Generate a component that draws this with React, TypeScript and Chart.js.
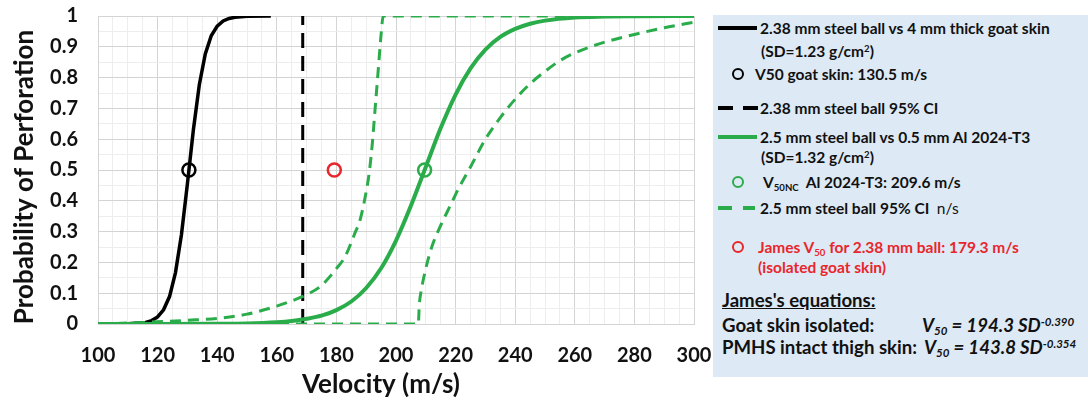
import React, { useEffect, useRef } from 'react';
import { Chart, registerables } from 'chart.js';

Chart.register(...registerables);

// ---- Data ----
const goatVelocity = [100, 110, 116, 118, 120, 122, 124, 126, 128, 130, 132, 134, 136, 138, 140, 142, 144, 146, 150, 158];
const goatProb = [0, 0.001, 0.005, 0.011, 0.023, 0.046, 0.089, 0.167, 0.29, 0.455, 0.63, 0.777, 0.877, 0.936, 0.967, 0.984, 0.992, 0.996, 0.999, 1];

const goatCIVelocity = [168.7, 168.7];
const goatCIProb = [0, 1];

const alVelocity = [100, 120, 140, 150, 160, 165, 170, 175, 180, 185, 190, 195, 200, 205, 210, 215, 220, 225, 230, 235, 240, 245, 250, 260, 270, 280, 300];
const alProb = [0, 0.0001, 0.0008, 0.002, 0.006, 0.01, 0.017, 0.027, 0.045, 0.073, 0.117, 0.181, 0.271, 0.384, 0.51, 0.636, 0.745, 0.83, 0.891, 0.932, 0.958, 0.975, 0.985, 0.995, 0.998, 0.999, 1];

const alLowCIVelocity = [100, 110, 120, 130, 140, 150, 160, 165, 170, 175, 180, 183, 186, 188, 190, 191, 192, 193, 194, 195, 195.7, 300];
const alLowCIProb = [0, 0.003, 0.007, 0.012, 0.018, 0.032, 0.058, 0.075, 0.095, 0.125, 0.18, 0.22, 0.29, 0.34, 0.43, 0.49, 0.58, 0.7, 0.82, 0.94, 1, 1];

const alHighCIVelocity = [100, 207.5, 207.8, 208.5, 210, 212, 215, 218, 221, 225, 230, 235, 240, 245, 250, 255, 260, 270, 280, 290, 300];
const alHighCIProb = [0, 0, 0.06, 0.11, 0.18, 0.25, 0.32, 0.38, 0.44, 0.51, 0.6, 0.67, 0.73, 0.78, 0.82, 0.855, 0.88, 0.915, 0.94, 0.962, 0.98];

const goatV50 = [130.5];
const alV50 = [209.6];
const jamesV50 = [179.3];
const v50Prob = [0.5];

const xTickLabels = [100, 120, 140, 160, 180, 200, 220, 240, 260, 280, 300];
const yTickLabels = [0, 0.1, 0.2, 0.3, 0.4, 0.5, 0.6, 0.7, 0.8, 0.9, 1];

const BLACK = '#000000';
const GREEN = '#2aac4a';
const RED = '#e8262b';
const GRID_MAJOR = '#d4d4d4';
const GRID_MINOR = '#ededed';
const FONT = 'Lato, "Open Sans", sans-serif';

const pts = (xs: number[], ys: number[]) => xs.map((x, i) => ({ x, y: ys[i] }));

// shift a scale's title drawing by a small offset (title placement in the reference is not centred)
const shiftTitle = (s: any, dx: number, dy: number) => {
  if (s.__titleShifted) return;
  s.__titleShifted = true;
  const orig = s.drawTitle;
  s.drawTitle = function (...args: any[]) {
    const ctx = this.ctx;
    ctx.save();
    ctx.translate(dx, dy);
    orig.apply(this, args);
    ctx.restore();
  };
};

function ChartCanvas() {
  const ref = useRef<HTMLCanvasElement | null>(null);
  useEffect(() => {
    if (!ref.current) return;
    const marker = (label: string, xs: number[], color: string) => ({
      label,
      data: pts(xs, v50Prob),
      showLine: false,
      pointRadius: 6.5,
      pointHoverRadius: 6.5,
      pointBorderWidth: 2.5,
      pointBorderColor: color,
      pointBackgroundColor: 'rgba(0,0,0,0)',
      pointStyle: 'circle',
    });
    const line = (label: string, xs: number[], ys: number[], color: string, width: number, dash: number[], smooth: boolean) => ({
      label,
      data: pts(xs, ys),
      showLine: true,
      borderColor: color,
      borderWidth: width,
      borderDash: dash,
      pointRadius: 0,
      pointHoverRadius: 0,
      tension: 0,
      cubicInterpolationMode: smooth ? 'monotone' : 'default',
      fill: false,
    });
    const chart = new Chart(ref.current, {
      type: 'scatter',
      data: {
        datasets: [
          marker('V50 goat skin: 130.5 m/s', goatV50, BLACK),
          marker('V50NC Al 2024-T3: 209.6 m/s', alV50, GREEN),
          marker('James V50 for 2.38 mm ball: 179.3 m/s', jamesV50, RED),
          line('2.5 mm steel ball vs 0.5 mm Al 2024-T3', alVelocity, alProb, GREEN, 4, [], true),
          line('2.5 mm steel ball 95% CI (low)', alLowCIVelocity, alLowCIProb, GREEN, 3, [11, 7], true),
          line('2.5 mm steel ball 95% CI (high)', alHighCIVelocity, alHighCIProb, GREEN, 3, [11, 7], true),
          line('2.38 mm steel ball vs 4 mm thick goat skin', goatVelocity, goatProb, BLACK, 3.5, [], false),
          line('2.38 mm steel ball 95% CI', goatCIVelocity, goatCIProb, BLACK, 3, [15, 8], false),
        ] as any,
      },
      options: {
        responsive: false,
        animation: false,
        devicePixelRatio: 1,
        layout: { padding: { left: 0, right: 18, top: 16, bottom: 0 } },
        plugins: {
          legend: { display: false },
          tooltip: { enabled: false },
        },
        scales: {
          x: {
            type: 'linear',
            min: 100,
            max: 300,
            afterFit: (s: any) => {
              s.height = 78;
              s.paddingLeft = 0;
              s.paddingRight = 0;
              shiftTitle(s, -15, 0);
            },
            ticks: {
              stepSize: 5,
              autoSkip: false,
              maxRotation: 0,
              padding: 20,
              color: '#111',
              font: { family: FONT, size: 20, weight: 'bold' },
              callback: (v: any) => (xTickLabels.includes(Math.round(Number(v))) && Math.abs(Number(v) - Math.round(Number(v))) < 1e-6 ? String(Math.round(Number(v))) : ''),
            },
            grid: {
              drawTicks: false,
              color: (c: any) => (Math.round(c.tick.value) % 20 === 0 ? GRID_MAJOR : GRID_MINOR),
              lineWidth: 1,
            },
            border: { color: GRID_MAJOR },
            title: {
              display: true,
              text: 'Velocity (m/s)',
              color: '#111',
              font: { family: FONT, size: 26, weight: 'bold' },
              padding: { top: 0, bottom: 2 },
            },
          },
          y: {
            type: 'linear',
            min: 0,
            max: 1,
            afterFit: (s: any) => {
              s.width = 98;
              s.paddingTop = 0;
              s.paddingBottom = 0;
              shiftTitle(s, 0, 7);
            },
            ticks: {
              stepSize: 0.05,
              autoSkip: false,
              padding: 20,
              color: '#111',
              font: { family: FONT, size: 20, weight: 'bold' },
              callback: (v: any) => {
                const r = Math.round(Number(v) * 100);
                if (r % 10 !== 0) return '';
                const val = r / 100;
                return yTickLabels.includes(val) ? String(val) : '';
              },
            },
            grid: {
              drawTicks: false,
              color: (c: any) => (Math.round(c.tick.value * 100) % 10 === 0 ? GRID_MAJOR : GRID_MINOR),
              lineWidth: 1,
            },
            border: { color: GRID_MAJOR },
            title: {
              display: true,
              text: 'Probability of Perforation',
              color: '#111',
              font: { family: FONT, size: 26, weight: 'bold' },
              padding: { top: 9, bottom: 0 },
            },
          },
        },
      } as any,
    });
    return () => chart.destroy();
  }, []);
  return <canvas ref={ref} width={712} height={402} style={{ position: 'absolute', left: 0, top: 0, width: 712, height: 402 }} />;
}

const row = (top: number, left: number, size: number): React.CSSProperties => ({
  position: 'absolute',
  left,
  top: top - 11,
  height: 22,
  lineHeight: '22px',
  fontSize: size,
  fontWeight: 'bold',
  whiteSpace: 'nowrap',
  color: '#111',
});

const sub: React.CSSProperties = { fontSize: '0.62em', position: 'relative', top: '0.3em' };
const sup: React.CSSProperties = { fontSize: '0.62em', position: 'relative', top: '-0.5em' };

const Circle = ({ cx, cy, color }: { cx: number; cy: number; color: string }) => (
  <div style={{ position: 'absolute', left: cx - 6, top: cy - 6, width: 12, height: 12, boxSizing: 'border-box', border: `2.5px solid ${color}`, borderRadius: '50%' }} />
);

const Seg = ({ x1, x2, y, color, h }: { x1: number; x2: number; y: number; color: string; h: number }) => (
  <div style={{ position: 'absolute', left: x1, top: y - h / 2, width: x2 - x1, height: h, background: color }} />
);

function LegendPanel() {
  const L = 15.5;
  const B = 18.6;
  return (
    <div style={{ position: 'absolute', left: 0, top: 0, width: 1088, height: 402, fontFamily: FONT, pointerEvents: 'none' }}>
      <div style={{ position: 'absolute', left: 713, top: 15, width: 375, height: 362, background: '#dde9f5' }} />
      <Seg x1={718} x2={757} y={28} color={BLACK} h={3.5} />
      <div style={row(28, 760, L)}>2.38 mm steel ball vs 4 mm thick goat skin</div>
      <div style={row(51, 761, L)}>(SD=1.23 g/cm<span style={sup}>2</span>)</div>
      <Circle cx={738} cy={74} color={BLACK} />
      <div style={row(74, 755, L)}>V50 goat skin: 130.5 m/s</div>
      <Seg x1={718} x2={733} y={108} color={BLACK} h={4} />
      <Seg x1={743} x2={758} y={108} color={BLACK} h={4} />
      <div style={row(108, 760, L)}>2.38 mm steel ball 95% CI</div>
      <Seg x1={718} x2={757} y={137} color={GREEN} h={4} />
      <div style={row(137, 760, L)}>2.5 mm steel ball vs 0.5 mm Al 2024-T3</div>
      <div style={row(157, 761, L)}>(SD=1.32 g/cm<span style={sup}>2</span>)</div>
      <Circle cx={738} cy={182} color={GREEN} />
      <div style={row(182, 763, L)}>V<span style={sub}>50NC</span>&nbsp; Al 2024-T3: 209.6 m/s</div>
      <Seg x1={718} x2={732} y={208} color={GREEN} h={4} />
      <Seg x1={743} x2={755} y={208} color={GREEN} h={4} />
      <div style={row(208, 760, L)}>2.5 mm steel ball 95% CI&nbsp; <span style={{ fontWeight: 'normal' }}>n/s</span></div>
      <Circle cx={738} cy={247} color={RED} />
      <div style={{ ...row(247, 758, L), color: RED }}>James V<span style={sub}>50</span> for 2.38 mm ball: 179.3 m/s</div>
      <div style={{ ...row(267, 758, L), color: RED }}>(isolated goat skin)</div>
      <div style={{ ...row(300, 722, B), textDecoration: 'underline' }}>James's equations:</div>
      <div style={row(325, 722, B)}>Goat skin isolated:</div>
      <div style={{ ...row(325, 922, B), fontStyle: 'italic' }}>V<span style={sub}>50</span> = 194.3 SD<span style={sup}>-0.390</span></div>
      <div style={row(347, 722, B)}>PMHS intact thigh skin:</div>
      <div style={{ ...row(347, 924, B), fontStyle: 'italic' }}>V<span style={sub}>50</span> = 143.8 SD<span style={sup}>-0.354</span></div>
    </div>
  );
}

export default function App() {
  return (
    <div style={{ position: 'absolute', left: 0, top: 0, width: 1088, height: 402, background: '#ffffff', overflow: 'hidden' }}>
      <ChartCanvas />
      <LegendPanel />
    </div>
  );
}
